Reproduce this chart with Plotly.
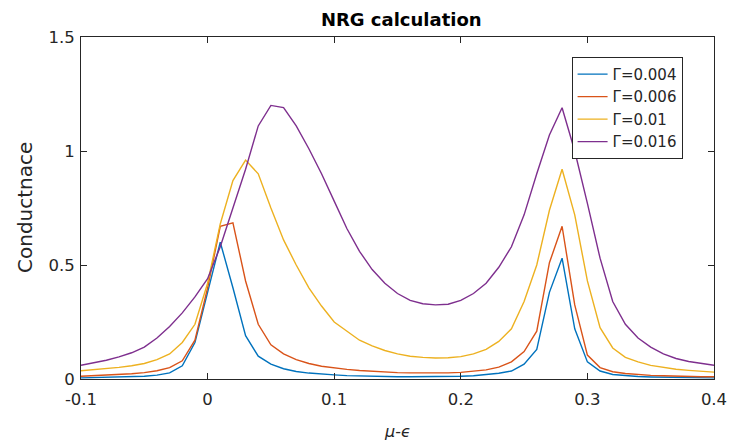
import plotly.graph_objects as go

x_vals = [round(-0.1 + 0.01 * i, 2) for i in range(51)]

g_0004 = [0.005, 0.006, 0.007, 0.008, 0.010, 0.012, 0.017, 0.027, 0.058, 0.16,
          0.38, 0.60, 0.40, 0.19, 0.10, 0.065, 0.045, 0.033, 0.026, 0.021,
          0.018, 0.015, 0.013, 0.012, 0.011, 0.010, 0.010, 0.010, 0.010, 0.011,
          0.012, 0.014, 0.018, 0.025, 0.035, 0.065, 0.13, 0.38, 0.53, 0.22,
          0.075, 0.035, 0.020, 0.014, 0.011, 0.009, 0.008, 0.007, 0.006, 0.005,
          0.005]
g_0006 = [0.012, 0.014, 0.016, 0.019, 0.023, 0.028, 0.036, 0.050, 0.080, 0.17,
          0.40, 0.67, 0.685, 0.43, 0.24, 0.15, 0.11, 0.085, 0.068, 0.056,
          0.048, 0.042, 0.037, 0.033, 0.030, 0.028, 0.027, 0.026, 0.026, 0.027,
          0.029, 0.033, 0.040, 0.052, 0.075, 0.12, 0.21, 0.51, 0.67, 0.325,
          0.105, 0.050, 0.032, 0.024, 0.019, 0.016, 0.014, 0.012, 0.011, 0.010,
          0.010]
g_001 = [0.036, 0.040, 0.045, 0.051, 0.058, 0.068, 0.085, 0.11, 0.16, 0.24,
         0.42, 0.68, 0.87, 0.96, 0.90, 0.75, 0.61, 0.50, 0.40, 0.32,
         0.25, 0.21, 0.17, 0.145, 0.125, 0.11, 0.10, 0.095, 0.092, 0.093,
         0.098, 0.11, 0.13, 0.165, 0.22, 0.34, 0.50, 0.74, 0.92, 0.72,
         0.43, 0.225, 0.136, 0.095, 0.075, 0.060, 0.050, 0.043, 0.038, 0.034,
         0.030]
g_0016 = [0.060, 0.070, 0.082, 0.097, 0.115, 0.14, 0.18, 0.23, 0.29, 0.36,
          0.44, 0.58, 0.75, 0.92, 1.11, 1.20, 1.19, 1.11, 1.01, 0.90,
          0.78, 0.66, 0.56, 0.48, 0.42, 0.375, 0.345, 0.33, 0.325, 0.328,
          0.345, 0.375, 0.42, 0.49, 0.58, 0.72, 0.90, 1.07, 1.19, 1.00,
          0.77, 0.53, 0.34, 0.24, 0.18, 0.14, 0.11, 0.09, 0.077, 0.067,
          0.060]

series = [
    ("Γ=0.004", g_0004, "#0072BD"),
    ("Γ=0.006", g_0006, "#D95319"),
    ("Γ=0.01", g_001, "#EDB120"),
    ("Γ=0.016", g_0016, "#7E2F8E"),
]

x_ticks = [-0.1, 0, 0.1, 0.2, 0.3, 0.4]
x_tick_text = ["-0.1", "0", "0.1", "0.2", "0.3", "0.4"]
y_ticks = [0, 0.5, 1, 1.5]
y_tick_text = ["0", "0.5", "1", "1.5"]

FONT = "DejaVu Sans"
AX = "#262626"

fig = go.Figure()
for name, ys, col in series:
    fig.add_trace(go.Scatter(x=x_vals, y=ys, mode="lines", name=name,
                             line=dict(color=col, width=1.4)))

axis_common = dict(showline=True, linecolor=AX, linewidth=1, mirror="ticks",
                   ticks="inside", ticklen=6, tickcolor=AX, tickwidth=1,
                   showgrid=False, zeroline=False,
                   tickfont=dict(family=FONT, size=16.5, color=AX))

fig.update_layout(
    width=739, height=442,
    margin=dict(l=81, r=19, t=37, b=63),
    paper_bgcolor="white", plot_bgcolor="white",
    title=dict(text="<b>NRG calculation</b>", x=0.543, xanchor="center",
               y=0.955, yanchor="middle",
               font=dict(family=FONT, size=18, color="black")),
    xaxis=dict(range=[-0.1, 0.4], tickvals=x_ticks, ticktext=x_tick_text,
               ticklabelstandoff=5, **axis_common),
    yaxis=dict(range=[0, 1.5], tickvals=y_ticks, ticktext=y_tick_text,
               ticklabelstandoff=2, **axis_common),
    legend=dict(x=0.775, y=0.942, xanchor="left", yanchor="top",
                bgcolor="white", bordercolor=AX, borderwidth=1,
                font=dict(family=FONT, size=15, color=AX),
                tracegroupgap=0, itemwidth=30),
    showlegend=True,
    annotations=[
        dict(text="<i>μ</i>-<i>ϵ</i>", xref="paper", yref="paper", x=0.5, y=0,
             yshift=-52, showarrow=False, xanchor="center", yanchor="middle",
             font=dict(family=FONT, size=16, color=AX)),
        dict(text="Conductnace", xref="paper", yref="paper", x=0, y=0.5,
             xshift=-56, textangle=-90, showarrow=False, xanchor="center",
             yanchor="middle", font=dict(family=FONT, size=20, color=AX)),
    ],
)

fig.write_html("out.html")
